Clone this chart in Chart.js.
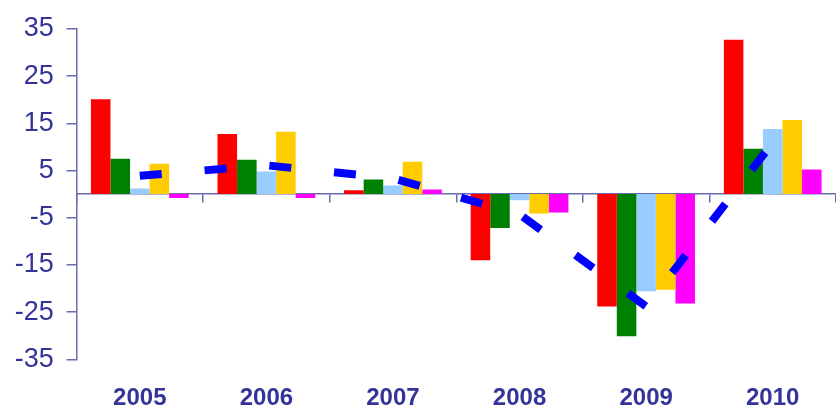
<!DOCTYPE html>
<html>
<head>
<meta charset="utf-8">
<script src="https://cdn.jsdelivr.net/npm/chart.js@4"></script>
<style>
  html, body { margin: 0; padding: 0; background: #fff; }
  #wrap { width: 836px; height: 407px; position: relative; }
</style>
</head>
<body>
<div id="wrap"><canvas id="chart"></canvas></div>
<script>
const years = ['2005', '2006', '2007', '2008', '2009', '2010'];
const redValues = [20.1, 12.75, 0.8, -14.0, -23.8, 32.7];
const greenValues = [7.5, 7.3, 3.1, -7.2, -30.1, 9.6];
const lightBlueValues = [1.2, 4.8, 1.8, -1.3, -20.6, 13.8];
const goldValues = [6.45, 13.2, 6.85, -4.1, -20.25, 15.7];
const magentaValues = [-0.85, -0.85, 1.0, -3.9, -23.2, 5.2];
const lineValues = [3.9, 6.1, 3.35, -4.3, -23.8, 10.9];
const yMin = -35;
const yMax = 35;
const yStep = 10;

const axisColor = '#6b6bb3';
const textColor = '#333399';

function bar(data, color) {
  return {
    type: 'bar',
    data: data,
    backgroundColor: color,
    borderWidth: 0,
    categoryPercentage: 0.772,
    barPercentage: 1.0,
  };
}

new Chart(document.getElementById('chart'), {
  data: {
    labels: years,
    datasets: [
      {
        type: 'line',
        data: lineValues,
        borderColor: '#0000ff',
        borderWidth: 8,
        borderDash: [22, 43],
        borderCapStyle: 'butt',
        pointRadius: 0,
        tension: 0,
        fill: false,
      },
      bar(redValues, '#ff0000'),
      bar(greenValues, '#008000'),
      bar(lightBlueValues, '#99ccff'),
      bar(goldValues, '#ffcc00'),
      bar(magentaValues, '#ff00ff'),
    ],
  },
  options: {
    responsive: true,
    maintainAspectRatio: false,
    animation: false,
    layout: { padding: { top: 26.3, right: -4, bottom: 0, left: 0 } },
    plugins: { legend: { display: false }, tooltip: { enabled: false } },
    scales: {
      x: {
        type: 'category',
        position: { y: 0 },
        offset: true,
        grid: {
          offset: true,
          drawOnChartArea: false,
          drawTicks: true,
          tickLength: 8,
          color: axisColor,
          lineWidth: 1.5,
        },
        border: { display: true, color: axisColor, width: 1.5 },
        ticks: { display: false },
      },
      x2: {
        type: 'category',
        position: 'bottom',
        offset: true,
        grid: { display: false },
        border: { display: false },
        ticks: {
          color: textColor,
          padding: 16.5,
          maxRotation: 0,
          font: { family: '"Liberation Sans", Arial, sans-serif', size: 24, weight: 'bold' },
        },
        afterFit: (scale) => { scale.height = 47.7; },
      },
      y: {
        min: yMin,
        max: yMax,
        grid: {
          drawOnChartArea: false,
          drawTicks: true,
          tickLength: 10,
          color: axisColor,
          lineWidth: 1.5,
        },
        border: { display: true, color: axisColor, width: 1.5 },
        ticks: {
          stepSize: yStep,
          color: textColor,
          padding: 12.7,
          font: { family: '"Liberation Sans", Arial, sans-serif', size: 27 },
        },
        afterFit: (scale) => { scale.width = 76.5; },
      },
    },
  },
});
</script>
</body>
</html>
